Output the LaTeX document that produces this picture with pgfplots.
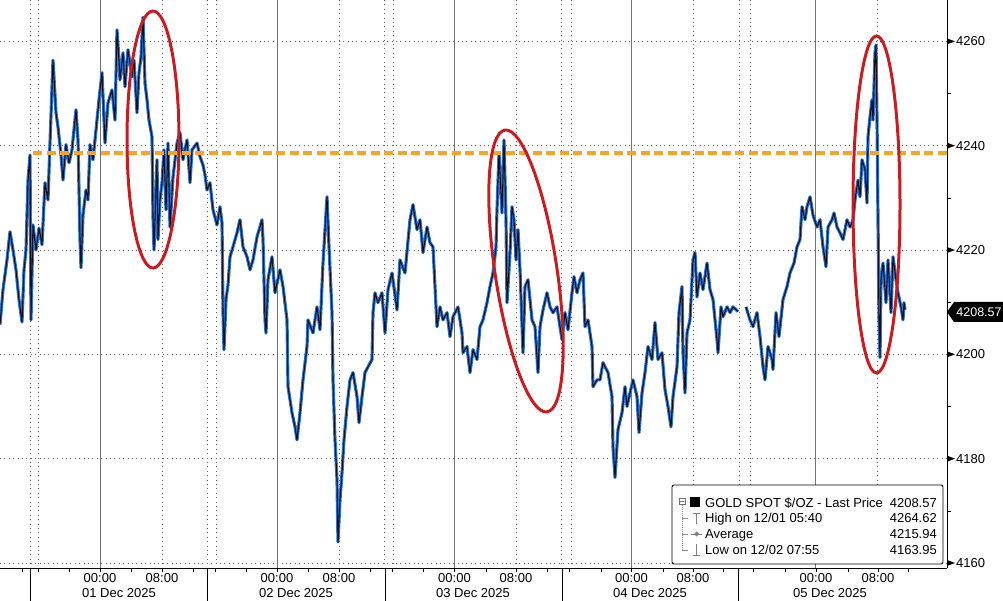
\documentclass[border=0pt]{standalone}
\usepackage{pgfplots}
\pgfplotsset{compat=1.18}
\usepackage{fontspec}
\setmainfont{Liberation Sans}
\definecolor{ornge}{RGB}{245,166,40}
\definecolor{redel}{RGB}{200,28,32}
\definecolor{cblue}{RGB}{45,118,208}
\definecolor{cnavy}{RGB}{12,16,40}
\pgfplotstableread{
x y
0 4205.7
3 4212.4
7 4218.1
10 4223.5
13 4220.0
16 4216.2
19 4210.5
22 4206.2
24 4216.2
26 4220.0
28 4233.4
30 4238.2
31 4206.6
33 4224.8
36 4220.0
39 4224.2
42 4221.0
45 4232.9
48 4229.6
50 4240.5
53 4256.4
56 4246.3
58 4243.6
61 4238.2
63 4233.4
66 4240.2
69 4236.7
72 4239.2
76 4246.9
78 4241.1
80 4222.0
81 4216.6
83 4226.7
86 4231.5
88 4229.6
90 4240.2
93 4237.3
96 4243.0
99 4248.8
102 4254.0
105 4240.5
108 4248.2
112 4250.7
115 4244.9
117 4262.2
119 4256.4
120 4252.6
123 4257.8
125 4251.3
128 4258.4
132 4253.2
134 4256.4
137 4246.3
139 4254.0
141 4257.0
143 4264.6
145 4252.0
147 4248.8
149 4244.9
152 4241.7
153 4226.4
154 4220.0
157 4237.3
158 4222.0
160 4229.6
162 4232.9
164 4239.2
166 4227.7
168 4240.5
170 4224.4
173 4234.0
177 4240.5
180 4242.5
183 4237.3
187 4241.1
190 4232.9
192 4239.2
197 4240.5
200 4237.9
203 4236.3
205 4234.4
207 4231.5
210 4232.9
213 4227.7
217 4224.8
220 4228.3
222 4225.2
223 4208.0
224 4200.9
226 4210.5
228 4213.3
230 4218.7
233 4220.6
237 4223.3
240 4225.8
243 4220.6
247 4218.7
250 4216.2
253 4218.1
257 4222.5
262 4225.8
263 4222.0
265 4206.6
266 4204.1
268 4214.3
272 4218.7
275 4211.8
280 4216.2
283 4213.0
287 4206.6
288 4193.8
292 4188.8
295 4186.1
297 4183.6
300 4188.8
303 4195.1
307 4201.5
308 4206.6
313 4204.1
317 4209.1
320 4204.7
323 4217.5
327 4230.2
329 4220.6
332 4208.0
333 4195.1
335 4183.6
337 4176.0
338 4164.0
340 4172.1
342 4177.3
344 4183.6
347 4190.0
350 4195.1
353 4196.5
357 4191.9
359 4186.9
362 4191.9
365 4196.5
368 4197.6
372 4199.0
373 4208.0
375 4211.8
378 4209.9
382 4211.8
385 4204.1
388 4212.4
392 4215.6
397 4208.5
400 4218.1
405 4215.6
410 4225.8
413 4228.7
417 4223.9
420 4225.8
423 4219.5
427 4224.4
430 4221.4
433 4220.6
435 4213.0
437 4205.3
440 4209.1
443 4206.6
447 4208.0
450 4203.4
453 4207.2
458 4209.1
462 4204.1
463 4200.3
467 4201.5
470 4196.5
473 4200.9
477 4199.0
480 4205.3
483 4206.6
487 4209.9
490 4213.0
493 4215.6
496 4220.6
497 4227.7
499 4238.6
502 4227.1
504 4241.1
506 4225.8
507 4209.9
510 4219.5
512 4228.3
514 4225.8
516 4218.1
518 4223.9
520 4216.2
523 4200.3
525 4213.0
528 4214.3
532 4206.6
535 4205.3
538 4196.5
540 4205.3
543 4208.5
547 4211.8
550 4209.1
553 4208.0
557 4209.1
560 4205.3
562 4202.8
565 4208.0
568 4204.7
572 4211.8
574 4214.9
577 4211.8
580 4214.3
583 4215.6
585 4205.3
588 4206.6
592 4201.5
593 4193.8
597 4195.1
600 4195.1
603 4198.4
608 4196.5
612 4191.9
613 4182.3
615 4176.4
618 4185.6
622 4188.8
625 4193.8
627 4190.0
630 4192.6
633 4195.1
637 4191.9
639 4185.0
642 4192.6
645 4196.5
648 4201.5
652 4199.0
655 4206.1
658 4199.0
662 4200.3
665 4193.2
668 4190.0
671 4186.1
673 4191.9
677 4197.6
679 4208.0
682 4213.0
683 4200.3
685 4192.6
687 4204.1
690 4206.6
693 4218.1
695 4219.5
697 4211.0
700 4215.6
703 4212.4
707 4217.5
710 4212.4
713 4210.5
717 4202.8
718 4200.3
721 4209.1
723 4207.2
727 4209.1
730 4208.0
733 4209.1
738 4208.2
}\dayA
\pgfplotstableread{
x y
746 4209.1
750 4206.6
753 4205.3
757 4208.0
760 4203.4
763 4197.6
765 4195.1
768 4201.5
772 4199.0
773 4197.1
776 4208.0
779 4203.4
783 4210.5
787 4213.0
790 4215.6
794 4217.5
797 4220.6
800 4222.0
802 4228.3
805 4225.8
807 4228.3
810 4230.2
813 4226.7
817 4224.4
820 4225.8
823 4220.6
826 4216.8
828 4224.4
832 4225.8
834 4227.1
837 4224.4
840 4223.3
843 4222.0
847 4225.8
850 4224.4
853 4225.8
855 4229.6
858 4233.4
860 4230.2
862 4237.3
865 4235.4
867 4229.0
868 4241.7
870 4245.5
872 4248.8
873 4244.9
875 4257.8
876 4259.3
877 4244.9
878 4225.8
879 4206.6
880 4199.4
881 4214.3
883 4217.5
886 4209.9
888 4218.1
891 4208.0
893 4218.7
896 4214.3
898 4211.8
901 4209.1
903 4206.6
904 4209.9
905 4208.57
}\dayB
\begin{document}
\begin{tikzpicture}
\path[use as bounding box] (0,0) rectangle (1003pt,601pt);
% grid (pixel scope, y downwards)
\begin{scope}[shift={(0pt,601pt)}, x=1pt, y=-1pt]
  \foreach \gy in {41.37,145.69,250.02,354.34,458.67,562.99}{
    \draw[black!60, line width=0.8pt, dash pattern=on 0.8pt off 3.6pt] (0,\gy) -- (947,\gy);
  }
  \foreach \gx in {30,38,162,207,216,339,384,393,516,561,571,693,739,750,877}{
    \draw[black!60, line width=0.8pt, dash pattern=on 0.8pt off 3.6pt] (\gx,0) -- (\gx,568);
  }
  \foreach \gx in {100,277,454.5,631.5,815}{
    \draw[black!55, line width=0.8pt] (\gx,0) -- (\gx,568);
  }
\end{scope}
\begin{axis}[
  at={(0pt,33pt)}, anchor=south west,
  scale only axis, width=947pt, height=568pt,
  xmin=0, xmax=947, ymin=4159.04, ymax=4267.93,
  axis x line*=bottom, axis y line*=right,
  axis line style={black, line width=0.8pt, -},
  xtick={100,162,277,339,454.5,516,631.5,693,816,878},
  xticklabels={00:00,08:00,00:00,08:00,00:00,08:00,00:00,08:00,00:00,08:00},
  minor xtick={22.7,38,69,131,193,215,246,308,370,392,423,486,547,569,601,663,723,753,785,848,908},
  tick align=outside,
  major tick length=4pt, minor tick length=4pt,
  xtick style={black, line width=0.6pt},
  ytick={4160,4180,4200,4220,4240,4260},
  yticklabels={4160,4180,4200,4220,4240,4260},
  ytick style={draw=none},
  ticklabel style={font=\fontsize{13}{15}\selectfont, text=black},
  xticklabel style={inner sep=0pt, yshift=-1.5pt},
  yticklabel style={anchor=west, inner sep=0pt, xshift=5pt},
]
\addplot[cblue, line width=3.2pt, line join=round] table {\dayA};
\addplot[cblue, line width=3.2pt, line join=round] table {\dayB};
\addplot[cnavy, line width=1.1pt, line join=round] table {\dayA};
\addplot[cnavy, line width=1.1pt, line join=round] table {\dayB};
\end{axis}
\begin{scope}[shift={(0pt,601pt)}, x=1pt, y=-1pt]
  % reference level
  \draw[ornge, line width=4pt, dash pattern=on 9pt off 4.5pt] (33,153.5) -- (947,153.5);
  % right-axis tick marks
  \foreach \gy in {41.37,145.69,250.02,354.34,458.67,562.99}{
    \fill[black] (947,\gy-3) -- (955,\gy) -- (947,\gy+3) -- cycle;
  }
  \foreach \gy in {93.53,197.86,302.18,406.5,510.83}{
    \draw[black, line width=0.6pt] (947,\gy) -- (951,\gy);
  }
  % ellipses
  \draw[redel, line width=3pt] (153,139.5) ellipse [x radius=26, y radius=128.5];
  \draw[redel, line width=3pt, rotate around={8.5:(526,271)}] (526,271) ellipse [x radius=31, y radius=142.5];
  \draw[redel, line width=3pt] (876.5,204.5) ellipse [x radius=23.5, y radius=168.5];
  % day separators
  \foreach \s in {30,207,385,562,738} { \draw[black, line width=0.8pt] (\s,568) -- (\s,601); }
  % date labels
  \foreach \xx/\t in {119/01 Dec 2025,296/02 Dec 2025,473/03 Dec 2025,650/04 Dec 2025,830/05 Dec 2025}{
    \node[anchor=base, inner sep=0pt, font=\fontsize{13}{15}\selectfont, text=black] at (\xx,598) {\t};
  }
  % last price tag
  \fill[black] (947,312) -- (954,302) -- (1003,302) -- (1003,322) -- (954,322) -- cycle;
  \node[text=white, inner sep=0pt, font=\fontsize{12.5}{14}\selectfont] at (979,312) {4208.57};
  % legend
  \draw[black, line width=0.8pt, fill=white, rounded corners=2pt] (672,485) rectangle (943,564);
  \draw[black!45, line width=0.6pt, dash pattern=on 1pt off 1pt] (682,505) -- (682,550);
  \foreach \ry in {518.5,534,550} { \draw[black!45, line width=0.6pt] (682,\ry) -- (688,\ry); }
  \draw[black!55, line width=0.6pt, fill=white] (679,498) rectangle (685,504);
  \draw[black!55, line width=0.6pt] (680.3,501) -- (683.7,501);
  \fill[black] (690,497) rectangle (700,507);
  \draw[black!50, line width=0.8pt] (692.5,513) -- (699.5,513) (696,513) -- (696,524);
  \draw[black!50, line width=0.8pt] (691,534) -- (702,534);
  \fill[black!50] (696.5,531.5) -- (699,534) -- (696.5,536.5) -- (694,534) -- cycle;
  \draw[black!50, line width=0.8pt] (696,544) -- (696,555) (692.5,555) -- (699.5,555);
  \tikzset{lg/.style={inner sep=0pt, font=\fontsize{13}{15}\selectfont, text=black}}
  \node[lg, anchor=base west] at (705,507.4) {GOLD SPOT \$/OZ - Last Price};
  \node[lg, anchor=base west] at (705,523) {High on 12/01 05:40};
  \node[lg, anchor=base west] at (705,538.4) {Average};
  \node[lg, anchor=base west] at (705,554.2) {Low on 12/02 07:55};
  \node[lg, anchor=base east] at (937,507.4) {4208.57};
  \node[lg, anchor=base east] at (937,523) {4264.62};
  \node[lg, anchor=base east] at (937,538.4) {4215.94};
  \node[lg, anchor=base east] at (937,554.2) {4163.95};
\end{scope}
\end{tikzpicture}
\end{document}
